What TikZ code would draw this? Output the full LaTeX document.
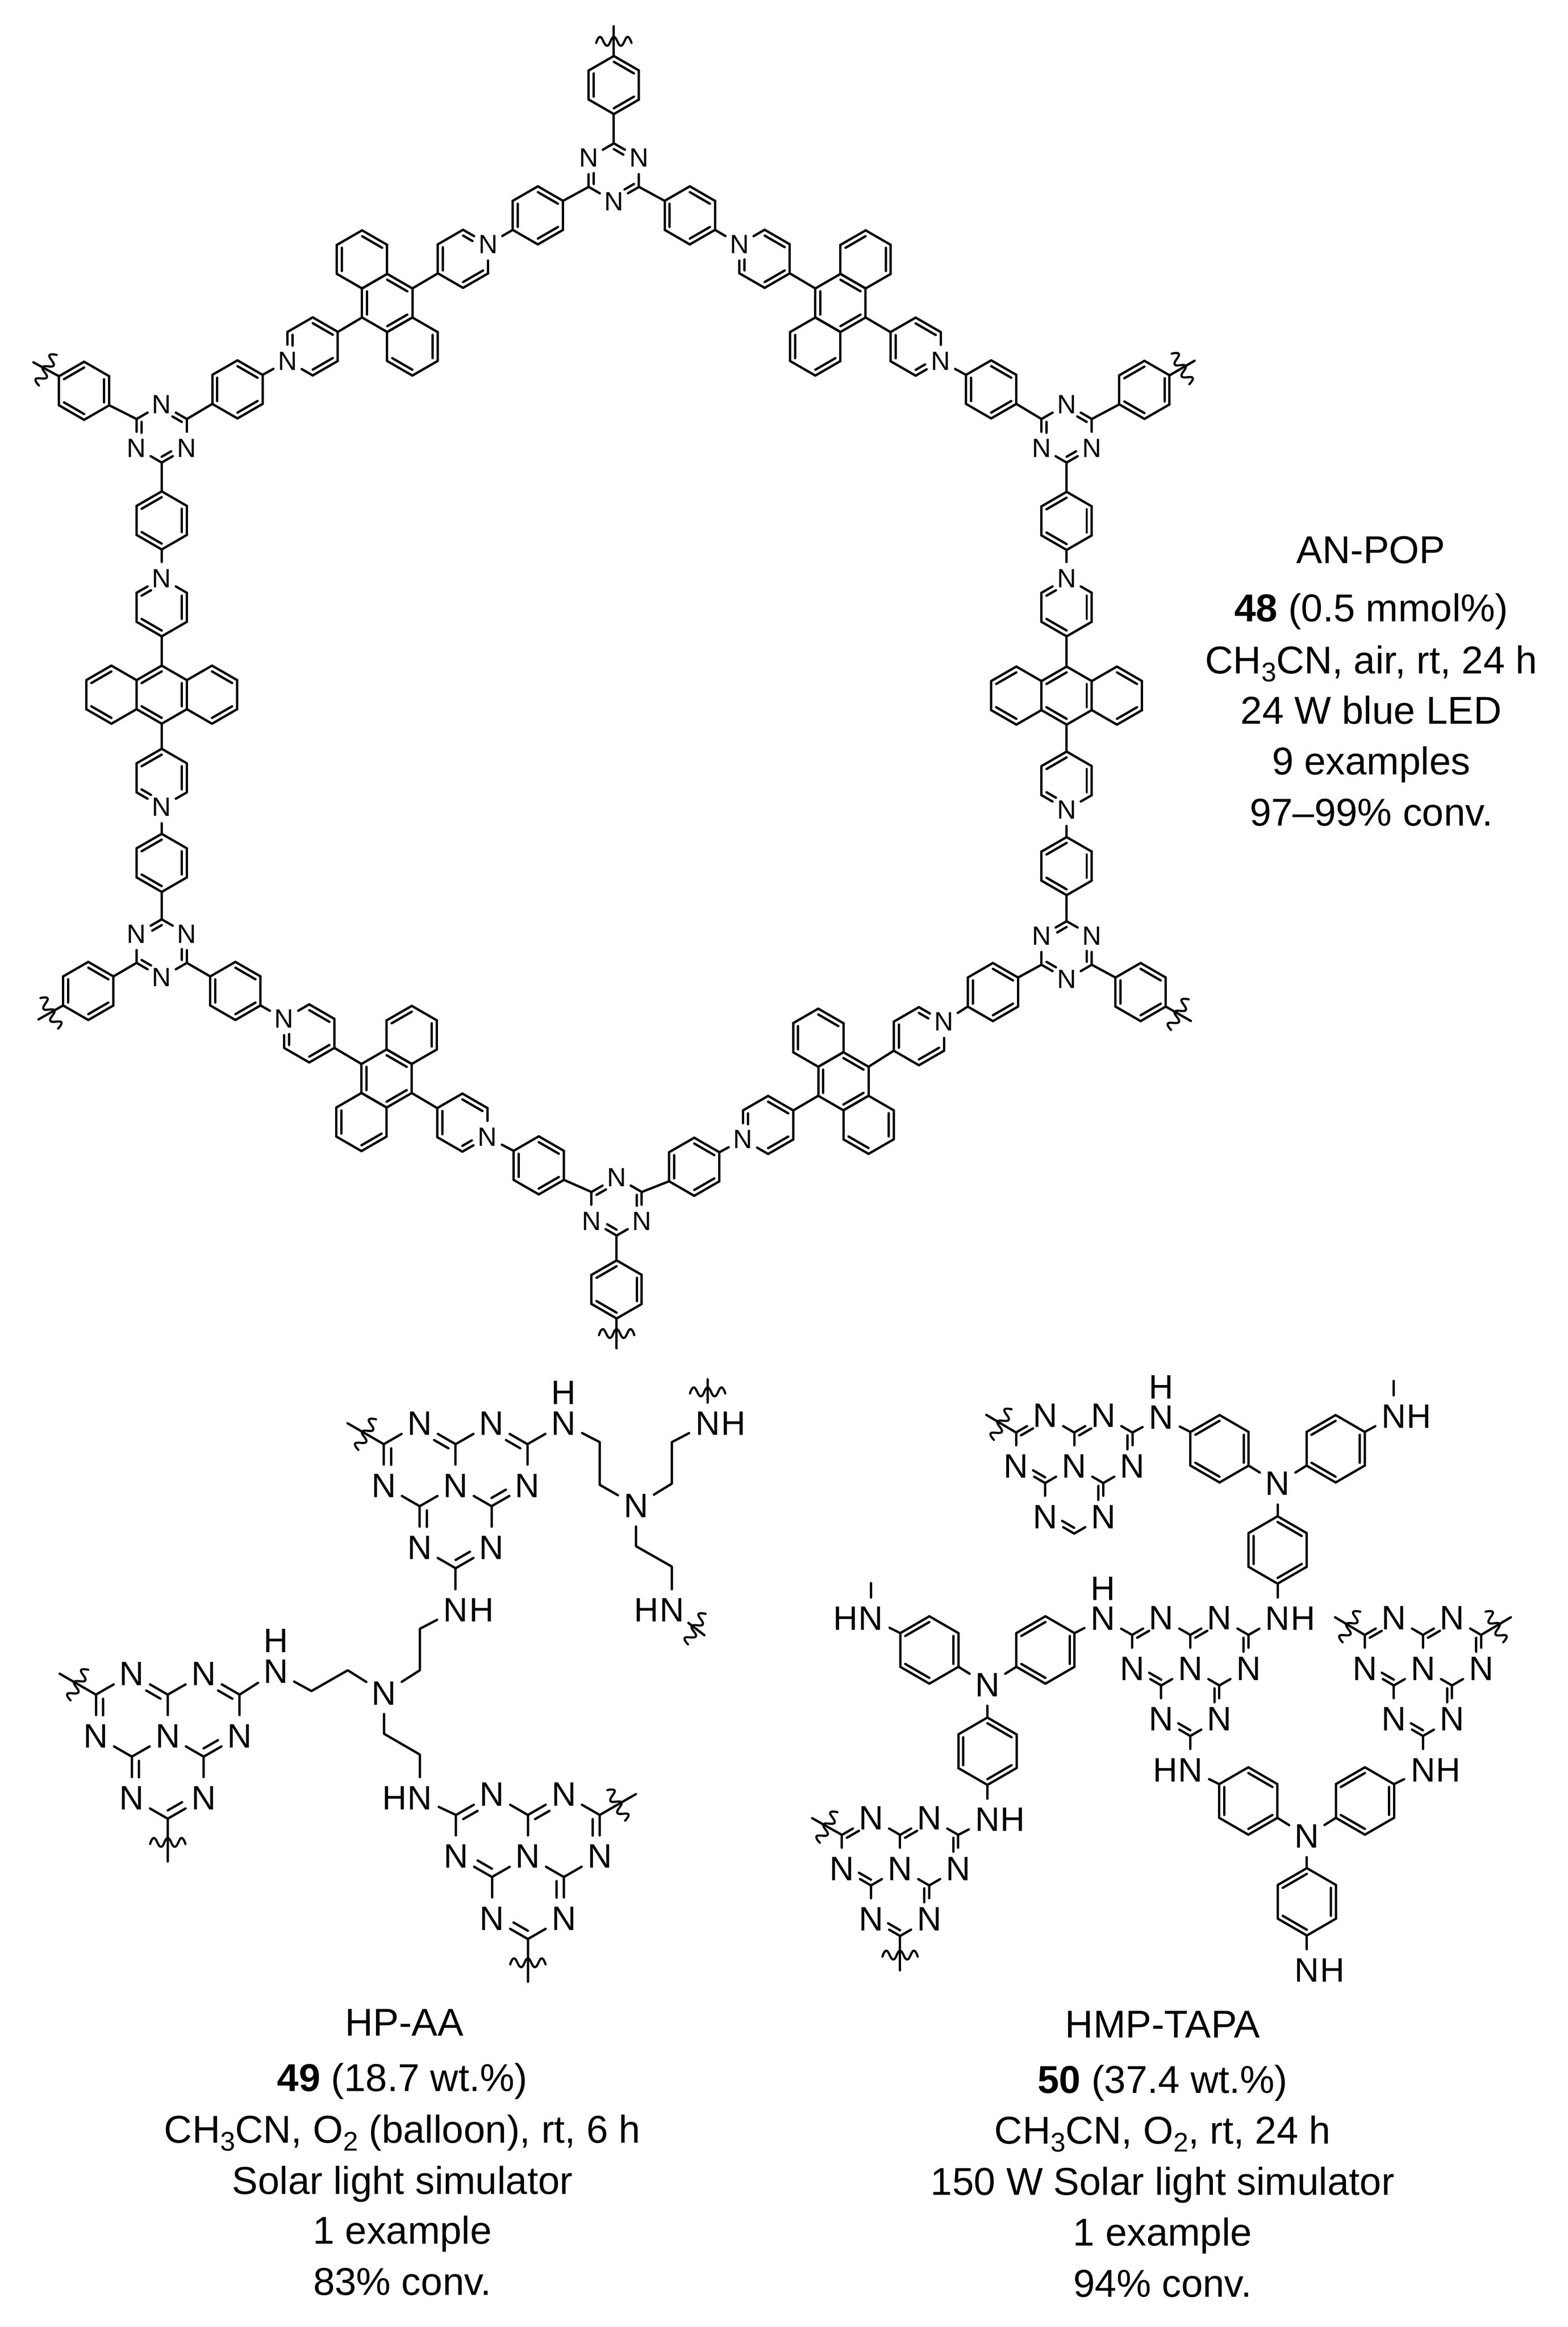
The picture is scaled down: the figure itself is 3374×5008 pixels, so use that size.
\documentclass[tikz,border=0pt]{standalone}
\usepackage{fontspec}
\setmainfont{Liberation Sans}
\usetikzlibrary{calc}
\tikzset{
  bond/.style={line width=5pt,line cap=round,line join=round,black},
  atomN/.style={circle,inner sep=0pt,outer sep=0pt,minimum size=70pt,font=\fontsize{57}{60}\selectfont},
  atomB/.style={circle,inner sep=0pt,outer sep=0pt,minimum size=90pt,font=\fontsize{73}{76}\selectfont},
  lblH/.style={inner sep=0pt,outer sep=0pt,font=\fontsize{73}{76}\selectfont},
  captext/.style={anchor=base,inner sep=0pt,outer sep=0pt,font=\fontsize{83.5}{90}\selectfont},
}
\def\BL{62.5}\def\BH{54.13}\def\INF{0.2}
\newcommand{\subt}[1]{\raisebox{-17pt}{\fontsize{58}{58}\selectfont #1}}
% inner line of a double bond: ring #1, vertices #2 -> #3
\newcommand{\InnerL}[3]{%
  \def\fa{0}\def\fb{1}%
  \ifcsname isN#1#2\endcsname\def\fa{0.53}\fi
  \ifcsname isN#1#3\endcsname\def\fb{0.47}\fi
  \coordinate (tmpA) at ($(#1v#2)!\INF!(#1c)$);
  \coordinate (tmpB) at ($(#1v#3)!\INF!(#1c)$);
  \draw[bond] ($(tmpA)!\fa!(tmpB)$) -- ($(tmpA)!\fb!(tmpB)$);
}
% ring: name, centre, double bonds, N positions (x = none); vertices clockwise from top
\newcommand{\Ring}[4]{%
  \coordinate (#1c) at (#2);
  \coordinate (#1v0) at ($(#1c)+(0,-\BL)$);
  \coordinate (#1v1) at ($(#1c)+(\BH,-\BL/2)$);
  \coordinate (#1v2) at ($(#1c)+(\BH,\BL/2)$);
  \coordinate (#1v3) at ($(#1c)+(0,\BL)$);
  \coordinate (#1v4) at ($(#1c)+(-\BH,\BL/2)$);
  \coordinate (#1v5) at ($(#1c)+(-\BH,-\BL/2)$);
  \foreach \k in {0,...,5} {\coordinate (#1\k) at (#1v\k);}
  \foreach \k in {#4} {\if x\k\else
    \expandafter\gdef\csname isN#1\k\endcsname{}%
    \node[atomN] (#1\k) at (#1v\k) {N};\fi}
  \foreach \k/\nx in {0/1,1/2,2/3,3/4,4/5,5/0} {\draw[bond] (#1\k) -- (#1\nx);}
  \edef\dl{#3}%
  \foreach \k/\nx in \dl {\InnerL{#1}{\k}{\nx}}
}
% terminal cut bond with wavy line: from, offset, rotation, position of wave on bond
\newcommand{\Cut}[4]{%
  \coordinate (cutend) at ($(#1)+(#2)$);
  \draw[bond] (#1) -- (cutend);
  \draw[bond,line width=4.6pt,shift={($(#1)!#4!(cutend)$)},rotate=#3] plot[smooth,tension=0.8] coordinates
    {(-38,4) (-29,-9) (-14.5,10) (0,-9) (15,10) (29,-9) (38,4)};
}
% heptazine
\newcommand{\HD}[4]{%
  \coordinate (tmpA) at ($(#1#2.center)!\INF!(#1#4)$);
  \coordinate (tmpB) at ($(#1#3.center)!\INF!(#1#4)$);
  \draw[bond] (tmpA) -- ($(tmpA)!0.5!(tmpB)$);
}
\newcommand{\Hept}[3]{%
  \coordinate (#1ctr) at (#2);
  \coordinate (#1u) at ($(#1ctr)+(-\BH,-\BL/2)$);
  \coordinate (#1r) at ($(#1ctr)+(\BH,-\BL/2)$);
  \coordinate (#1w) at ($(#1ctr)+(0,\BL)$);
  \coordinate (#1a) at ($(#1ctr)+(-2*\BH,-\BL)$);
  \coordinate (#1c) at ($(#1ctr)+(0,-\BL)$);
  \coordinate (#1e) at ($(#1ctr)+(2*\BH,-\BL)$);
  \coordinate (#1g) at ($(#1ctr)+(\BH,\BL/2)$);
  \coordinate (#1l) at ($(#1ctr)+(0,2*\BL)$);
  \coordinate (#1n) at ($(#1ctr)+(-\BH,\BL/2)$);
  \node[atomB] (#1b) at ($(#1ctr)+(-\BH,-1.5*\BL)$) {N};
  \node[atomB] (#1d) at ($(#1ctr)+(\BH,-1.5*\BL)$) {N};
  \node[atomB] (#1f) at ($(#1ctr)+(2*\BH,0)$) {N};
  \node[atomB] (#1k) at ($(#1ctr)+(\BH,1.5*\BL)$) {N};
  \node[atomB] (#1m) at ($(#1ctr)+(-\BH,1.5*\BL)$) {N};
  \node[atomB] (#1o) at ($(#1ctr)+(-2*\BH,0)$) {N};
  \node[atomB] (#1z) at (#1ctr) {N};
  \foreach \p/\q in {a/b,b/c,c/d,d/e,e/f,f/g,g/k,k/l,l/m,m/n,n/o,o/a,z/c,z/g,z/n}
    {\draw[bond] (#1\p) -- (#1\q);}
  \edef\dl{#3}%
  \foreach \p/\q/\rr in \dl {\HD{#1}{\p}{\q}{\rr}}
}
\def\PatA{a/o/u,c/b/u,e/d/r,g/f/r,n/m/w,l/k/w}
\def\PatB{a/b/u,c/d/r,e/f/r,n/o/u,g/k/w,l/m/w}
\def\evenD{0/1,2/3,4/5}
\def\oddD{1/2,3/4,5/0}
\begin{document}
\begin{tikzpicture}[x=1pt,y=-1pt]
\path[fill=white,use as bounding box] (0,0) rectangle (3374,5008);
% ---------- AN-POP ----------
\Ring{tp}{1321,183}{\evenD}{x}
\Ring{tt}{1321,371}{\evenD}{1,3,5}
\Cut{tp0}{0,-64}{0}{0.5}
\draw[bond] (tp3) -- (tt0);
% upper right arm
\Ring{ra}{1484.5,463.5}{\evenD}{x}
\Ring{rb}{1645.5,557}{\evenD}{5}
\Ring{rc}{1808.7,652}{\evenD}{x}
\Ring{rcu}{1862.83,558.25}{5/0,1/2}{x}
\Ring{rcl}{1754.57,745.75}{4/5,2/3}{x}
\Ring{rd}{1970.5,746}{\evenD}{2}
\Ring{re}{2133,838}{\evenD}{x}
\Ring{rf}{2295.4,933}{\evenD}{0,2,4}
\Ring{rg}{2462.8,839}{\oddD}{x}
\Cut{rg1}{54,-31.5}{-60}{0.5}
\draw[bond] (tt2) -- (ra5);
\draw[bond] (ra2) -- (rb5);
\draw[bond] (rb2) -- (rc5);
\draw[bond] (rc2) -- (rd5);
\draw[bond] (rd2) -- (re5);
\draw[bond] (re2) -- (rf5);
\draw[bond] (rf1) -- (rg4);
% right column
\Ring{rh}{2295.4,1121}{\oddD}{x}
\Ring{ri}{2295.4,1307}{\oddD}{0}
\Ring{rj}{2295.4,1497}{\oddD}{x}
\Ring{rjl}{2187.15,1497}{5/0,3/4}{x}
\Ring{rjr}{2403.65,1497}{0/1,2/3}{x}
\Ring{rk}{2295.4,1680}{\oddD}{3}
\Ring{rl}{2295.4,1864}{\oddD}{x}
\Ring{rm}{2295.4,2045}{\oddD}{1,3,5}
\draw[bond] (rf3) -- (rh0);
\draw[bond] (rh3) -- (ri0);
\draw[bond] (ri3) -- (rj0);
\draw[bond] (rj3) -- (rk0);
\draw[bond] (rk3) -- (rl0);
\draw[bond] (rl3) -- (rm0);
% lower right arm
\Ring{rq}{2454.6,2135}{\evenD}{x}
\Cut{rq2}{54,31}{60}{0.5}
\Ring{rp}{2136.7,2135}{\evenD}{x}
\Ring{rr}{1977.5,2230}{\evenD}{1}
\Ring{rs}{1815,2327}{\evenD}{x}
\Ring{rsu}{1760.87,2233.25}{0/1,4/5}{x}
\Ring{rsl}{1869.13,2420.75}{1/2,3/4}{x}
\Ring{ru}{1653,2421}{\evenD}{4}
\Ring{rv}{1494,2511}{\evenD}{x}
\Ring{bw}{1327,2596.5}{\oddD}{0,2,4}
\Ring{bx}{1327,2775}{\oddD}{x}
\Cut{bx3}{0,64}{0}{0.5}
\draw[bond] (rm2) -- (rq5);
\draw[bond] (rm4) -- (rp1);
\draw[bond] (rp4) -- (rr1);
\draw[bond] (rr4) -- (rs1);
\draw[bond] (rs4) -- (ru1);
\draw[bond] (ru4) -- (rv1);
\draw[bond] (rv4) -- (bw1);
\draw[bond] (bw3) -- (bx0);
% lower left arm
\Ring{ly}{1159.4,2508}{\evenD}{x}
\Ring{lz}{995,2416}{\evenD}{2}
\Ring{laa}{832,2321}{\evenD}{x}
\Ring{lau}{886.13,2227.25}{5/0,1/2}{x}
\Ring{lal}{777.87,2414.75}{4/5,2/3}{x}
\Ring{lb}{665.5,2224}{\evenD}{5}
\Ring{lcc}{506.6,2132.6}{\evenD}{x}
\Ring{ldd}{348,2041}{\oddD}{1,3,5}
\Ring{lee}{190,2132.6}{\evenD}{x}
\Cut{lee4}{-53,30}{-60}{0.5}
\draw[bond] (bw5) -- (ly2);
\draw[bond] (ly5) -- (lz2);
\draw[bond] (lz5) -- (laa2);
\draw[bond] (laa5) -- (lb2);
\draw[bond] (lb5) -- (lcc2);
\draw[bond] (lcc5) -- (ldd2);
\draw[bond] (ldd4) -- (lee1);
% left column
\Ring{lg}{348,1857}{\oddD}{x}
\Ring{lh}{348,1674}{\oddD}{3}
\Ring{li}{348,1495}{\oddD}{x}
\Ring{lil}{239.75,1495}{5/0,3/4}{x}
\Ring{lir}{456.25,1495}{0/1,2/3}{x}
\Ring{lj}{348,1307}{\oddD}{0}
\Ring{lk}{348,1120}{\oddD}{x}
\Ring{ll}{348,933}{\evenD}{0,2,4}
\draw[bond] (ldd0) -- (lg3);
\draw[bond] (lg0) -- (lh3);
\draw[bond] (lh0) -- (li3);
\draw[bond] (li0) -- (lj3);
\draw[bond] (lj0) -- (lk3);
\draw[bond] (lk0) -- (ll3);
% upper left arm
\Ring{lm}{181,841}{\oddD}{x}
\Cut{lm5}{-55,-30}{60}{0.5}
\Ring{lo}{511,838}{\evenD}{x}
\Ring{lp}{673,745.5}{\evenD}{4}
\Ring{lq}{833.3,652}{\evenD}{x}
\Ring{lqu}{779.17,558.25}{0/1,4/5}{x}
\Ring{lql}{887.43,745.75}{1/2,3/4}{x}
\Ring{lr}{996.5,557}{\evenD}{1}
\Ring{ls}{1157.5,463.5}{\evenD}{x}
\draw[bond] (ll5) -- (lm2);
\draw[bond] (ll1) -- (lo4);
\draw[bond] (lo1) -- (lp4);
\draw[bond] (lp1) -- (lq4);
\draw[bond] (lq1) -- (lr4);
\draw[bond] (lr1) -- (ls4);
\draw[bond] (ls1) -- (tt4);
% ---------- HP-AA ----------
\def\BL{89}\def\BH{77.3}
\Hept{A}{980.5,3197}{\PatA}
\Hept{B}{361,3736}{\PatA}
\Hept{D}{1136,3995}{\PatB}
\Cut{Aa}{-78,-45}{60}{0.5}
\Cut{Ba}{-78,-45}{60}{0.5}
\Cut{Bl}{0,92}{0}{0.55}
\Cut{De}{78,-45}{-60}{0.5}
\Cut{Dl}{0,92}{0}{0.55}
\node[atomB] (na) at (1212.6,3063.4) {N};
\node[lblH] (nah) at (1212.6,2997) {H};
\coordinate (ca) at (1290.7,3103.6);
\coordinate (cb) at (1290.7,3195.5);
\node[atomB] (nb) at (1368.8,3240.2) {N};
\coordinate (cc) at (1445.8,3192.9);
\coordinate (cd) at (1445.8,3103.6);
\node[atomB] (nc) at (1522.8,3063.4) {N};
\node[lblH] (nch) at (1578,3063.4) {H};
\Cut{nc}{0,-95}{0}{0.72}
\coordinate (ce) at (1368.8,3327.7);
\coordinate (cf) at (1445.8,3371.4);
\node[atomB] (nd) at (1445.8,3465.2) {N};
\node[lblH] (ndh) at (1391,3465.2) {H};
\Cut{nd}{70,54}{60}{0.72}
\draw[bond] (Ae) -- (na);
\draw[bond] (na) -- (ca) -- (cb) -- (nb);
\draw[bond] (nb) -- (cc) -- (cd) -- (nc);
\draw[bond] (nb) -- (ce) -- (cf) -- (nd);
\node[atomB] (ne) at (980.5,3465.2) {N};
\node[lblH] (neh) at (1036,3465.2) {H};
\coordinate (cg) at (903.5,3505.4);
\coordinate (ch) at (903.5,3594.6);
\node[atomB] (nf) at (826.5,3643.8) {N};
\coordinate (ci) at (748.4,3594.6);
\coordinate (cj) at (670.3,3639.3);
\node[atomB] (ng) at (593.3,3597.3) {N};
\node[lblH] (ngh) at (593.3,3531) {H};
\coordinate (ck) at (826.5,3731.3);
\coordinate (cl) at (903.5,3776);
\node[atomB] (nh) at (903.5,3869.6) {N};
\node[lblH] (nhh) at (849,3869.6) {H};
\draw[bond] (Al) -- (ne);
\draw[bond] (ne) -- (cg) -- (ch) -- (nf);
\draw[bond] (nf) -- (ci) -- (cj) -- (ng);
\draw[bond] (ng) -- (Be);
\draw[bond] (nf) -- (ck) -- (cl) -- (nh);
\draw[bond] (nh) -- (Da);
% ---------- HMP-TAPA ----------
\def\BL{72.5}\def\BH{62.6}\def\INF{0.17}
\Hept{E}{2311.7,3155.4}{\PatB}
\Hept{F}{2561.5,3591}{\PatB}
\Hept{G}{3062.2,3591}{\PatB}
\Hept{I}{1937,4021.4}{\PatB}
\Cut{Ea}{-64,-38}{60}{0.5}
\Cut{Ga}{-64,-38}{60}{0.5}
\Cut{Ge}{64,-38}{-60}{0.5}
\Cut{Ia}{-64,-36}{60}{0.5}
\Cut{Il}{0,74}{0}{0.55}
\Ring{pa}{2624.5,3117.9}{\oddD}{x}
\Ring{pb}{2874.3,3117.9}{\oddD}{x}
\Ring{pc}{2749.4,3335.7}{\evenD}{x}
\Ring{pd}{2249.8,3550.9}{\oddD}{x}
\Ring{pe}{2000,3550.9}{\oddD}{x}
\Ring{pf}{2124.9,3768.8}{\evenD}{x}
\Ring{pg}{2686.4,3875.9}{\evenD}{x}
\Ring{ph}{2937.3,3875.9}{\oddD}{x}
\Ring{pi}{2812.4,4092.9}{\oddD}{x}
\node[atomB] (ma) at (2498.6,3050) {N};
\node[lblH] (mah) at (2498.6,2985) {H};
\node[atomB] (mb) at (2749.4,3192.9) {N};
\node[atomB] (mc) at (2999.2,3048) {N};
\node[lblH] (mch) at (3053.7,3048) {H};
\coordinate (mct) at (2999.2,2972);
\node[atomB] (md) at (2749.4,3483) {N};
\node[lblH] (mdh) at (2804,3483) {H};
\node[atomB] (me) at (2373.6,3483) {N};
\node[lblH] (meh) at (2373.6,3418.7) {H};
\node[atomB] (mf) at (2124.9,3625.9) {N};
\node[atomB] (mg) at (1874,3483) {N};
\node[lblH] (mgh) at (1819.6,3483) {H};
\coordinate (mgt) at (1874,3407);
\node[atomB] (mh) at (2124.9,3916) {N};
\node[lblH] (mhh) at (2179.3,3916) {H};
\node[atomB] (mi) at (2561.5,3809) {N};
\node[lblH] (mih) at (2508,3809) {H};
\node[atomB] (mj) at (2812.4,3951.8) {N};
\node[atomB] (mk) at (3062.2,3809) {N};
\node[lblH] (mkh) at (3116.7,3809) {H};
\node[atomB] (ml) at (2812.4,4240) {N};
\node[lblH] (mlh) at (2866.9,4240) {H};
\draw[bond] (Ee) -- (ma);
\draw[bond] (ma) -- (pa5);
\draw[bond] (pa2) -- (mb);
\draw[bond] (pb4) -- (mb);
\draw[bond] (pb1) -- (mc);
\draw[bond] (mc) -- (mct);
\draw[bond] (mb) -- (pc0);
\draw[bond] (pc3) -- (md);
\draw[bond] (md) -- (Fe);
\draw[bond] (Fa) -- (me);
\draw[bond] (me) -- (pd1);
\draw[bond] (pd4) -- (mf);
\draw[bond] (pe2) -- (mf);
\draw[bond] (pe5) -- (mg);
\draw[bond] (mg) -- (mgt);
\draw[bond] (mf) -- (pf0);
\draw[bond] (pf3) -- (mh);
\draw[bond] (mh) -- (Ie);
\draw[bond] (Fl) -- (mi);
\draw[bond] (mi) -- (pg5);
\draw[bond] (pg2) -- (mj);
\draw[bond] (ph4) -- (mj);
\draw[bond] (ph1) -- (mk);
\draw[bond] (mk) -- (Gl);
\draw[bond] (mj) -- (pi0);
\draw[bond] (pi3) -- (ml);
% ---------- captions ----------
\node[captext] (t1) at (2950,1212) {AN-POP};
\node[captext] (t2) at (2951,1338) {\bfseries 48\mdseries{} (0.5 mmol\%)};
\node[captext] (t3) at (2951,1449.5) {CH\subt{3}CN, air, rt, 24 h};
\node[captext] (t4) at (2951,1557.6) {24 W blue LED};
\node[captext] (t5) at (2951,1667) {9 examples};
\node[captext] (t6) at (2951,1777.5) {97–99\% conv.};
\node[captext] (u1) at (870,4381) {HP-AA};
\node[captext] (u2) at (866,4501) {\bfseries 49\mdseries{} (18.7 wt.\%)};
\node[captext] (u3) at (866,4611.5) {CH\subt{3}CN, O\subt{2} (balloon), rt, 6 h};
\node[captext] (u4) at (866,4722) {Solar light simulator};
\node[captext] (u5) at (866,4829) {1 example};
\node[captext] (u6) at (866,4939) {83\% conv.};
\node[captext] (w1) at (2502,4385) {HMP-TAPA};
\node[captext] (w2) at (2502,4504.5) {\bfseries 50\mdseries{} (37.4 wt.\%)};
\node[captext] (w3) at (2502,4614) {CH\subt{3}CN, O\subt{2}, rt, 24 h};
\node[captext] (w4) at (2502,4723.5) {150 W Solar light simulator};
\node[captext] (w5) at (2502,4833.6) {1 example};
\node[captext] (w6) at (2502,4943) {94\% conv.};
\end{tikzpicture}
\end{document}
